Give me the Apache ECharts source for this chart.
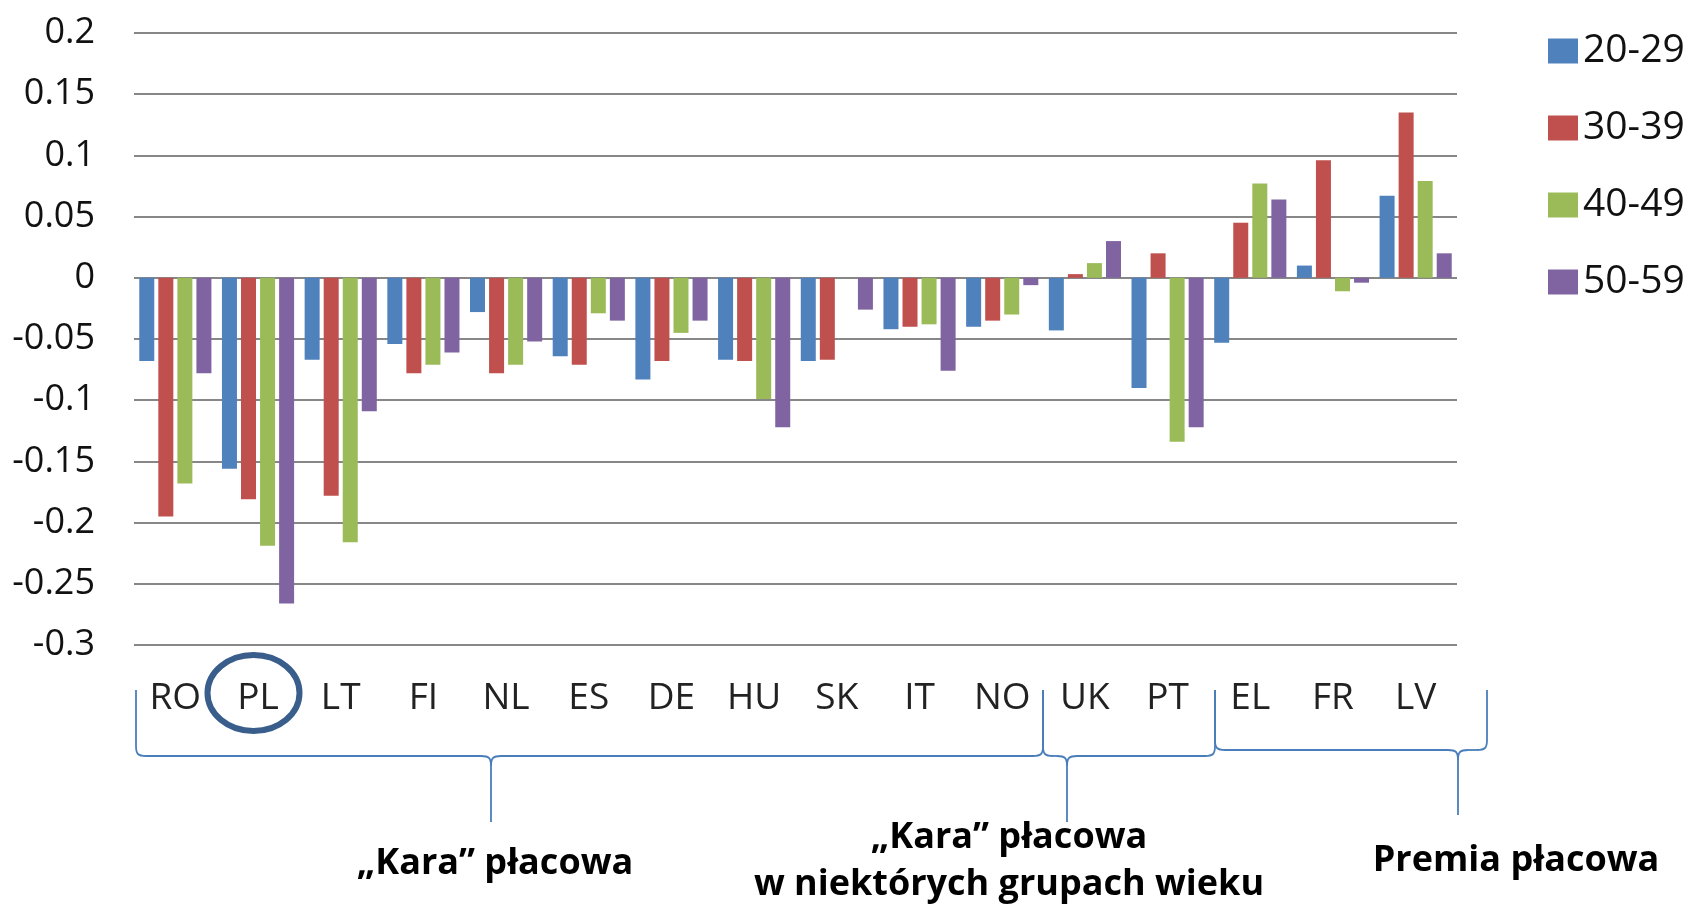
<!DOCTYPE html>
<html>
<head>
<meta charset="utf-8">
<style>
html,body{margin:0;padding:0;background:#fff;}
#chart{width:1692px;height:904px;}
</style>
<script src="https://cdn.jsdelivr.net/npm/echarts@6/dist/echarts.min.js"></script>
</head>
<body>
<div id="chart"></div>
<script>
const categories = ['RO','PL','LT','FI','NL','ES','DE','HU','SK','IT','NO','UK','PT','EL','FR','LV'];
const seriesNames = ['20-29','30-39','40-49','50-59'];
const age20_29 = [-0.068,-0.156,-0.067,-0.054,-0.028,-0.064,-0.083,-0.067,-0.068,-0.042,-0.040,-0.043,-0.090,-0.053,0.010,0.067];
const age30_39 = [-0.195,-0.181,-0.178,-0.078,-0.078,-0.071,-0.068,-0.068,-0.067,-0.040,-0.035,0.003,0.020,0.045,0.096,0.135];
const age40_49 = [-0.168,-0.219,-0.216,-0.071,-0.071,-0.029,-0.045,-0.099,0,-0.038,-0.030,0.012,-0.134,0.077,-0.011,0.079];
const age50_59 = [-0.078,-0.266,-0.109,-0.061,-0.052,-0.035,-0.035,-0.122,-0.026,-0.076,-0.006,0.030,-0.122,0.064,-0.004,0.020];
const yTicks = {min:-0.3, max:0.2, interval:0.05};
const colors = ['#4F81BD','#C0504D','#9BBB59','#8064A2'];
const annotations = [
  {text:'„Kara” płacowa', x:495, y:864},
  {text:'„Kara” płacowa', x:1009, y:838},
  {text:'w niektórych grupach wieku', x:1009, y:885},
  {text:'Premia płacowa', x:1516, y:861}
];

const chart = echarts.init(document.getElementById('chart'), null, {renderer:'canvas'});
const values = [age20_29, age30_39, age40_49, age50_59];

const braceStyle = {stroke:'#4A7EBB', lineWidth:1.8, fill:null};
function ln(a,b,c,d){ return {type:'line', shape:{x1:a,y1:b,x2:c,y2:d}, style:braceStyle, silent:true}; }
function bz(a,b,c,d,e,f,g,h){ return {type:'bezierCurve', shape:{x1:a,y1:b,x2:c,y2:d,cpx1:e,cpy1:f,cpx2:g,cpy2:h}, style:braceStyle, silent:true}; }
function brace(x1, xt, x2, y0, y1, y2){
  const r = 10;
  const out = [];
  out.push(ln(x1,y0,x1,y1-r));
  out.push(bz(x1,y1-r,x1+r,y1,x1,y1-2,x1+2,y1));
  if (xt-r > x1+r) out.push(ln(x1+r,y1,xt-r,y1));
  out.push(bz(xt-r,y1,xt,y1+r,xt-2,y1,xt,y1+2));
  out.push(ln(xt,y1+r,xt,y2));
  out.push(bz(xt+r,y1,xt,y1+r,xt+2,y1,xt,y1+2));
  out.push(ln(xt+r,y1,x2-r,y1));
  out.push(bz(x2-r,y1,x2,y1-r,x2-2,y1,x2,y1-2));
  out.push(ln(x2,y1-r,x2,y0));
  return out;
}

let graphics = [];
graphics = graphics.concat(brace(136,491,1043,690,756,822));
graphics = graphics.concat(brace(1043,1067,1215,690,756,822));
graphics = graphics.concat(brace(1215,1458,1487,690,750,815));
graphics.push({type:'ellipse', shape:{cx:253.5, cy:693, rx:46, ry:38}, style:{stroke:'#3A5E8C', lineWidth:6, fill:null}, silent:true, z:10});
annotations.forEach(a => {
  graphics.push({type:'text', x:a.x, y:a.y, style:{text:a.text, fontFamily:'Open Sans', fontWeight:'bold', fontSize:36, fill:'#000', align:'center', verticalAlign:'middle'}, silent:true});
});

chart.setOption({
  animation:false,
  color:colors,
  grid:{left:134, right:235, top:33, bottom:259, containLabel:false},
  legend:{
    orient:'vertical', left:1543, top:26, itemWidth:30, itemHeight:25, itemGap:37,
    icon:'rect',
    textStyle:{fontFamily:'Open Sans', fontSize:39, color:'#111', lineHeight:40, padding:[0,0,0,0]},
    data:seriesNames
  },
  xAxis:{
    type:'category', data:categories,
    axisLine:{show:false, onZero:false}, axisTick:{show:false},
    axisLabel:{fontFamily:'Open Sans', fontSize:37, color:'#222', margin:33, lineHeight:40, interval:0}
  },
  yAxis:{
    type:'value', min:yTicks.min, max:yTicks.max, interval:yTicks.interval,
    axisLine:{show:false}, axisTick:{show:false},
    axisLabel:{fontFamily:'Open Sans', fontSize:36, color:'#111', margin:39,
      formatter: v => String(Math.round(v*100)/100)},
    splitLine:{lineStyle:{color:'#878787', width:2}}
  },
  series: seriesNames.map((n,i) => ({
    name:n, type:'bar', data:values[i], barWidth:15, barGap:'27%'
  })),
  graphic:graphics
});
</script>
</body>
</html>
